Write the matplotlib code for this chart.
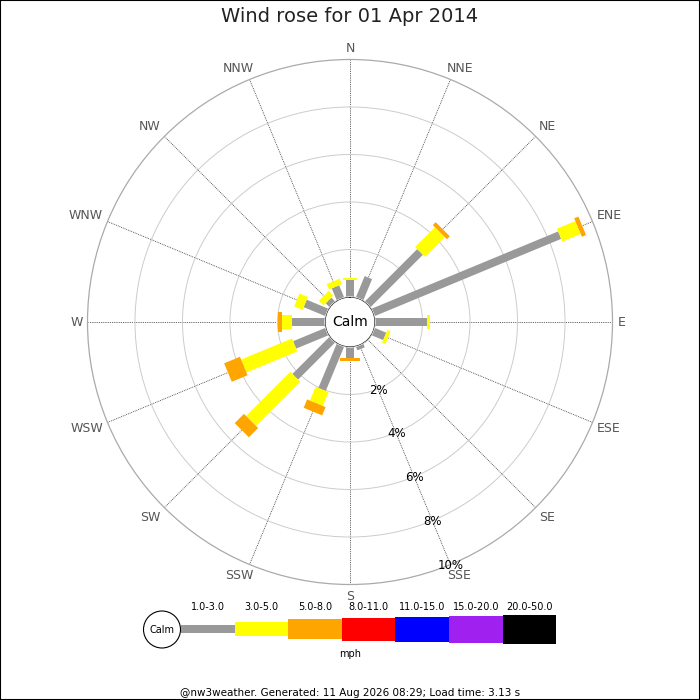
import numpy as np
import matplotlib
matplotlib.use('Agg')
import matplotlib.pyplot as plt
from matplotlib.patches import Rectangle, Circle

# wind rose for 01 Apr 2014, percentages of the day per direction and speed bin
directions = ['N', 'NNE', 'NE', 'ENE', 'E', 'ESE', 'SE', 'SSE',
              'S', 'SSW', 'SW', 'WSW', 'W', 'WNW', 'NW', 'NNW']
speed_bins = ['1.0-3.0', '3.0-5.0', '5.0-8.0', '8.0-11.0',
              '11.0-15.0', '15.0-20.0', '20.0-50.0']
bin_colors = ['#999999', '#ffff00', '#ffa500', '#ff0000',
              '#0000ff', '#a020f0', '#000000']
bin_widths_px = [8, 14, 20, 23, 25, 27, 29]

pct_1_3 = [0.72, 0.97, 3.12, 8.50, 2.18, 0.53, 0.00, 0.17,
           0.48, 2.02, 2.21, 1.47, 1.40, 0.99, 0.23, 0.55]
pct_3_5 = [0.10, 0.00, 1.18, 0.84, 0.14, 0.15, 0.00, 0.00,
           0.00, 0.63, 2.63, 2.32, 0.42, 0.38, 0.28, 0.25]
pct_5_8 = [0.00, 0.00, 0.17, 0.19, 0.00, 0.00, 0.00, 0.00,
           0.10, 0.38, 0.55, 0.72, 0.14, 0.00, 0.00, 0.00]
pct_8_11 = [0.0] * 16
pct_11_15 = [0.0] * 16
pct_15_20 = [0.0] * 16
pct_20_50 = [0.0] * 16
bins_pct = [pct_1_3, pct_3_5, pct_5_8, pct_8_11, pct_11_15, pct_15_20, pct_20_50]

ring_pcts = [2, 4, 6, 8, 10]

PX2PT = 0.72
W, H = 700, 700
CX, CY = 350, 322
R_PX = 262.5
HOLE_PX = 25
RMAX = 10

fig = plt.figure(figsize=(7, 7), dpi=100)

ax = fig.add_axes([(CX - R_PX) / W, (H - CY - R_PX) / H, 2 * R_PX / W, 2 * R_PX / H],
                  projection='polar')
ax.set_theta_zero_location('N')
ax.set_theta_direction(-1)
ax.set_ylim(0, RMAX)
ax.set_rorigin(-HOLE_PX / (R_PX - HOLE_PX) * RMAX)
ax.set_thetagrids(np.arange(16) * 22.5, labels=[''] * 16)
ax.set_rgrids(ring_pcts[:-1], labels=[''] * (len(ring_pcts) - 1))
ax.xaxis.grid(True, color='#333333', linestyle=(0, (1, 1.2)), linewidth=0.6)
ax.yaxis.grid(True, color='#cccccc', linestyle='-', linewidth=0.7)
ax.spines['polar'].set_color('#aaaaaa')
ax.spines['polar'].set_linewidth(0.9)
ax.spines['inner'].set_visible(False)
ax.tick_params(length=0)

# stacked bars as thick radial lines
for i in range(len(directions)):
    th = np.deg2rad(i * 22.5)
    start = 0.0
    for b in range(len(speed_bins)):
        v = bins_pct[b][i]
        if v > 0:
            ax.plot([th, th], [start, start + v], color=bin_colors[b],
                    linewidth=bin_widths_px[b] * PX2PT, solid_capstyle='butt', zorder=3)
        start += v

# radial labels along SSE
for r in ring_pcts:
    ax.text(np.deg2rad(157.5), r + 0.05, '%d%%' % r, ha='center', va='center',
            fontsize=8.5, color='black', zorder=4)

# white calm disc, no outline
ax.add_patch(Circle((0.5, 0.5), 25.6 / (2 * R_PX), transform=ax.transAxes,
                    facecolor='white', edgecolor='none', zorder=4))
ax.text(0.5, 0.5, 'Calm', transform=ax.transAxes, ha='center', va='center',
        fontsize=10, color='black', zorder=5)

# direction labels, pushed out by their own size
renderer = fig.canvas.get_renderer()
for i, name in enumerate(directions):
    th = np.deg2rad(i * 22.5)
    t = ax.annotate(name, xy=(th, RMAX), xytext=(0, 0), textcoords='offset points',
                    ha='center', va='center', fontsize=9, color='#555555',
                    annotation_clip=False)
    bb = t.get_window_extent(renderer)
    fx = np.clip(1.5 * np.sin(th), -1, 1)
    fy = np.clip(1.5 * np.cos(th), -1, 1)
    pad = 5
    dx = pad * np.sin(th) + fx * bb.width / 2
    dy = pad * np.cos(th) + fy * bb.height / 2
    t.xyann = (dx * PX2PT, dy * PX2PT)

# legend strip, drawn in pixel coordinates
lax = fig.add_axes([0, 0, 1, 1], zorder=-1)
lax.set_xlim(0, W)
lax.set_ylim(H, 0)
lax.axis('off')
lax.add_patch(Circle((162, 629.5), 18.5, facecolor='white', edgecolor='black', linewidth=0.8))
lax.text(162, 630, 'Calm', ha='center', va='center', fontsize=7)
seg_x0, seg_len, seg_y = 181, 53.6, 629.3
for b, lbl in enumerate(speed_bins):
    w = bin_widths_px[b]
    lax.add_patch(Rectangle((seg_x0 + b * seg_len, seg_y - w / 2), seg_len, w,
                            facecolor=bin_colors[b], edgecolor='none'))
    lax.text(seg_x0 + (b + 0.5) * seg_len, 607, lbl, ha='center', va='center', fontsize=7)
lax.text(350, 654, 'mph', ha='center', va='center', fontsize=7)

fig.text(0.5, 1 - 17 / H, 'Wind rose for 01 Apr 2014', ha='center', va='center',
         fontsize=14, color='#222222')
fig.text(0.5, 1 - 692.5 / H, '@nw3weather. Generated: 11 Aug 2026 08:29; Load time: 3.13 s',
         ha='center', va='center', fontsize=7.5, color='black')
fig.add_artist(Rectangle((0, 0), 1, 1, transform=fig.transFigure, fill=False,
                         edgecolor='black', linewidth=1.5))

fig.savefig('out.png', dpi=100)
